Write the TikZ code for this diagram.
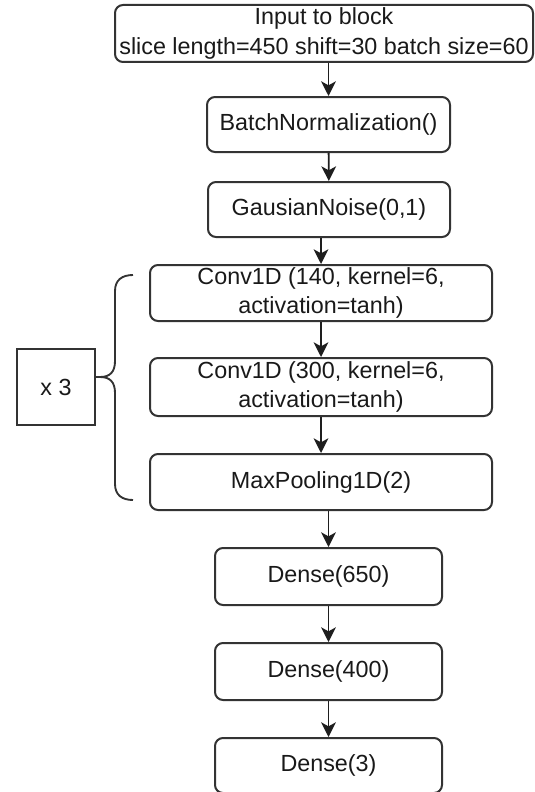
\documentclass[tikz,border=0pt]{standalone}
\usepackage{fontspec}
\setmainfont{Liberation Sans}
\usetikzlibrary{arrows.meta}

\tikzset{every picture/.style={line width=0.75pt}}
\tikzset{
  layerbox/.style={draw={rgb, 255:red, 51; green, 51; blue, 51 }, line width=1.5pt, rounded corners=6pt, align=center, inner sep=0pt,
    text={rgb, 255:red, 25; green, 25; blue, 25 }, font=\fontsize{17.5}{22}\selectfont},
  repeatbox/.style={layerbox, rounded corners=0pt},
  flowarrow/.style={draw={rgb, 255:red, 30; green, 30; blue, 30 }, line width=1.4pt, -{Stealth[length=11pt,width=11pt,inset=3pt]}},
}

\begin{document}
\begin{tikzpicture}[x=0.75pt,y=0.75pt,yscale=-1,xscale=1]
\path[use as bounding box] (0,0) rectangle (535,792); %set diagram to 535 x 792

% Input
\node[layerbox, minimum width=313.5pt, minimum height=42.75pt] (input) at (324,33.5) {Input to block\\slice length=450 shift=30 batch size=60};
% Normalisation and noise
\node[layerbox, minimum width=182.25pt, minimum height=41.25pt] (batchnorm) at (328.5,124.5) {BatchNormalization()};
\node[layerbox, minimum width=181.5pt, minimum height=41.25pt] (noise) at (329,209.5) {GausianNoise(0,1)};
% Repeated block
\node[layerbox, minimum width=256.5pt, minimum height=42pt] (convA) at (321,293) {Conv1D (140, kernel=6,\\activation=tanh)};
\node[layerbox, minimum width=256.5pt, minimum height=43.5pt] (convB) at (321,387) {Conv1D (300, kernel=6,\\activation=tanh)};
\node[layerbox, minimum width=256.5pt, minimum height=42pt] (maxpool) at (321,482) {MaxPooling1D(2)};
% Dense layers
\node[layerbox, minimum width=170.25pt, minimum height=42.75pt] (denseA) at (328.5,576.5) {Dense(650)};
\node[layerbox, minimum width=170.25pt, minimum height=42.75pt] (denseB) at (328.5,671.5) {Dense(400)};
\node[layerbox, minimum width=170.25pt, minimum height=41.25pt] (denseC) at (328.5,765.5) {Dense(3)};

% Repeat count
\node[repeatbox, minimum width=58.5pt, minimum height=57pt] (times) at (56,387) {x 3};
\coordinate (bracetip) at (100,377);

%Shape: Brace
\draw [draw={rgb, 255:red, 51; green, 51; blue, 51 }, line width=1.4pt] (133,275) .. controls (122,275) and (115,280) .. (115,291) -- (115,361) .. controls (115,372) and (110,377) .. (bracetip) .. controls (110,377) and (115,382) .. (115,393) -- (115,484) .. controls (115,495) and (122,500) .. (133,500) ;
%Straight Lines
\draw [draw={rgb, 255:red, 51; green, 51; blue, 51 }, line width=1.4pt] (bracetip -| times.east) -- (bracetip) ;

% Arrows
\draw[flowarrow] (input.south -| batchnorm.north) -- (batchnorm.north);
\draw[flowarrow] (batchnorm) -- (noise);
\draw[flowarrow] (noise.south -| convA.north) -- (convA.north);
\draw[flowarrow] (convA) -- (convB);
\draw[flowarrow] (convB) -- (maxpool);
\draw[flowarrow] (maxpool.south -| denseA.north) -- (denseA.north);
\draw[flowarrow] (denseA) -- (denseB);
\draw[flowarrow] (denseB) -- (denseC);

\end{tikzpicture}
\end{document}
